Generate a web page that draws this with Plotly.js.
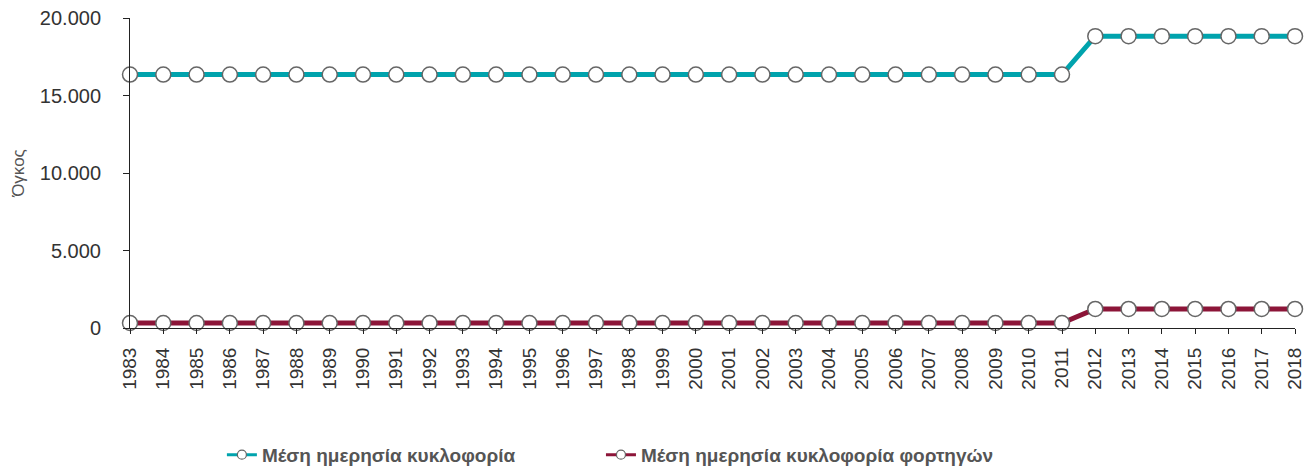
<!DOCTYPE html>
<html>
<head>
<meta charset="utf-8">
<script src="https://cdn.plot.ly/plotly-3.0.1.min.js"></script>
<style>html,body{margin:0;padding:0;background:#fff;}#chart{width:1313px;height:466px;}</style>
</head>
<body>
<div id="chart"></div>
<script>
const years = ["1983","1984","1985","1986","1987","1988","1989","1990","1991","1992","1993","1994","1995","1996","1997","1998","1999","2000","2001","2002","2003","2004","2005","2006","2007","2008","2009","2010","2011","2012","2013","2014","2015","2016","2017","2018"];
const seriesNames = ["Μέση ημερησία κυκλοφορία", "Μέση ημερησία κυκλοφορία φορτηγών"];
const seriesColors = ["#00A3AD", "#8C1538"];
const trafficTotal = [16350,16350,16350,16350,16350,16350,16350,16350,16350,16350,16350,16350,16350,16350,16350,16350,16350,16350,16350,16350,16350,16350,16350,16350,16350,16350,16350,16350,16350,18830,18830,18830,18830,18830,18830,18830];
const trafficTrucks = [320,320,320,320,320,320,320,320,320,320,320,320,320,320,320,320,320,320,320,320,320,320,320,320,320,320,320,320,320,1230,1230,1230,1230,1230,1230,1230];
const yTicks = [0, 5000, 10000, 15000, 20000];

const marker = {size: 15, color: '#ffffff', line: {color: '#666666', width: 1.5}};
const allSeries = [trafficTotal, trafficTrucks];
const legendIds = ['legend', 'legend2'];
const traces = [];
allSeries.forEach((vals, i) => {
  traces.push({x: years, y: vals, name: seriesNames[i], type: 'scatter', mode: 'lines+markers',
    line: {color: seriesColors[i], width: 5}, marker: marker, cliponaxis: false, showlegend: false});
});
// legend entries (smaller symbol like the reference)
allSeries.forEach((vals, i) => {
  traces.push({x: [null], y: [null], name: seriesNames[i], type: 'scatter', mode: 'lines+markers',
    line: {color: seriesColors[i], width: 3}, legend: legendIds[i],
    marker: {size: 9, color: '#ffffff', line: {color: '#666666', width: 1.2}}, showlegend: true});
});

const legendFont = {size: 19, color: '#555555', family: 'Liberation Sans, Arial, sans-serif', weight: 'bold'};
const layout = {
  width: 1313, height: 466,
  margin: {l: 130, r: 18, t: 18, b: 138, autoexpand: false},
  paper_bgcolor: '#ffffff', plot_bgcolor: '#ffffff',
  separators: ',.',
  font: {family: 'Liberation Sans, Arial, sans-serif', color: '#333333', size: 17},
  showlegend: true,
  legend: {orientation: 'h', xref: 'container', yref: 'container', x: 0.169, xanchor: 'left',
    y: 0.024, yanchor: 'middle', font: legendFont, itemwidth: 30},
  legend2: {orientation: 'h', xref: 'container', yref: 'container', x: 0.4577, xanchor: 'left',
    y: 0.024, yanchor: 'middle', font: legendFont, itemwidth: 30},
  xaxis: {
    type: 'category', range: [0, years.length - 1], automargin: false,
    showline: true, linecolor: '#222222', linewidth: 1,
    ticks: 'outside', ticklen: 5, tickcolor: '#222222',
    tickangle: -90, tickfont: {size: 19, color: '#333333'}, ticklabelstandoff: 6,
    showgrid: false, zeroline: false, fixedrange: true
  },
  yaxis: {
    range: [0, 20000], tickvals: yTicks, tickformat: ',d', automargin: false,
    showline: true, linecolor: '#222222', linewidth: 1,
    ticks: 'outside', ticklen: 6, tickcolor: '#222222',
    tickfont: {size: 20, color: '#333333'}, ticklabelstandoff: 18,
    showgrid: false, zeroline: false,
    title: {text: 'Όγκος', font: {size: 17, color: '#555555'}, standoff: 10}
  }
};

Plotly.newPlot('chart', traces, layout, {displayModeBar: false, staticPlot: true});
</script>
</body>
</html>
